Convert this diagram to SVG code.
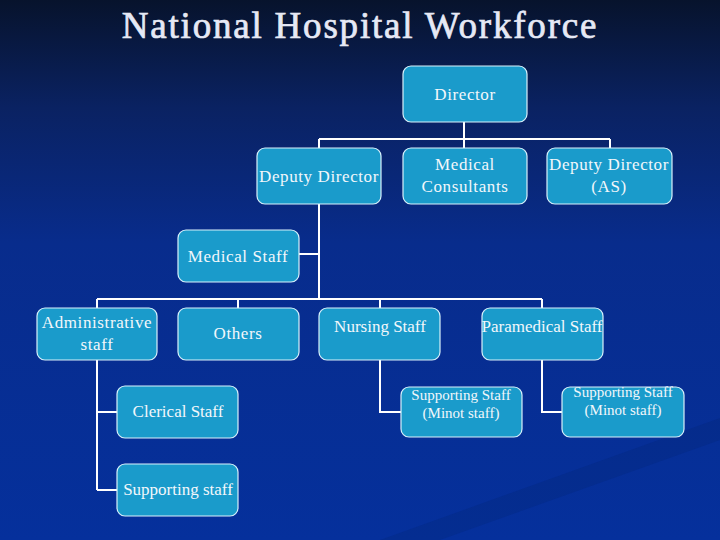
<svg xmlns="http://www.w3.org/2000/svg" width="720" height="540" viewBox="0 0 720 540">
<defs>
<linearGradient id="bg" x1="0" y1="0" x2="0" y2="1">
<stop offset="0" stop-color="#07132c"/>
<stop offset="0.2" stop-color="#0a2262"/>
<stop offset="0.45" stop-color="#082c8c"/>
<stop offset="1" stop-color="#05309c"/>
</linearGradient>
</defs>
<style>
.box{fill:#1a9bcb;stroke:#d9f1fb;stroke-width:1.2}
.t{font-family:"Liberation Serif","Times New Roman",serif;fill:#f2f7fb;text-anchor:middle}
.a{font-size:17px;letter-spacing:0.6px}
.b{font-size:17px}
.c{font-size:15px}
.ln{stroke:#ffffff;stroke-width:2;fill:none}
</style>
<rect width="720" height="540" fill="url(#bg)"/>
<polygon points="380,540 720,418 720,440 440,540" fill="#02236e" fill-opacity="0.25"/>
<text x="360" y="38" class="t" style="font-size:37px;letter-spacing:1.8px;fill:#e6e9f5;stroke:#e6e9f5;stroke-width:0.7">National Hospital Workforce</text>
<g id="connectors">
<path class="ln" d="M464,122 V139 M319,139 H610 M319,139 V148 M464,139 V148 M610,139 V148"/>
<path class="ln" d="M319,204 V299 M299,254 H319 M97,299 H542 M97,299 V308 M238,299 V308 M380,299 V308 M542,299 V308"/>
<path class="ln" d="M97,360 V490 M97,412 H117 M97,490 H117"/>
<path class="ln" d="M380,360 V412 H401 M542,360 V412 H562"/>
</g>
<g id="director"><rect class="box" x="403" y="66" width="124" height="56" rx="8"/><text class="t a" x="465" y="100">Director</text></g>
<g id="deputy-director"><rect class="box" x="257" y="148" width="124" height="56" rx="8"/><text class="t a" x="319" y="182">Deputy Director</text></g>
<g id="medical-consultants"><rect class="box" x="403" y="148" width="124" height="56" rx="8"/><text class="t a" x="465" y="170">Medical</text><text class="t a" x="465" y="192">Consultants</text></g>
<g id="deputy-director-as"><rect class="box" x="547" y="148" width="125" height="56" rx="8"/><text class="t a" x="609" y="170">Deputy Director</text><text class="t a" x="609" y="192">(AS)</text></g>
<g id="medical-staff"><rect class="box" x="178" y="230" width="121" height="52" rx="8"/><text class="t a" x="238" y="262">Medical Staff</text></g>
<g id="administrative-staff"><rect class="box" x="37" y="308" width="120" height="52" rx="8"/><text class="t a" x="97" y="328">Administrative</text><text class="t a" x="97" y="350">staff</text></g>
<g id="others"><rect class="box" x="178" y="308" width="121" height="52" rx="8"/><text class="t a" x="238" y="339">Others</text></g>
<g id="nursing-staff"><rect class="box" x="319" y="308" width="121" height="52" rx="8"/><text class="t b" x="380" y="332">Nursing Staff</text></g>
<g id="paramedical-staff"><rect class="box" x="482" y="308" width="121" height="52" rx="8"/><text class="t b" x="542" y="332">Paramedical Staff</text></g>
<g id="supporting-staff-nursing"><rect class="box" x="401" y="387" width="121" height="50" rx="8"/><text class="t c" x="461" y="400">Supporting Staff</text><text class="t c" x="461" y="418">(Minot staff)</text></g>
<g id="supporting-staff-paramedical"><rect class="box" x="562" y="387" width="122" height="50" rx="8"/><text class="t c" x="623" y="397">Supporting Staff</text><text class="t c" x="623" y="415">(Minot staff)</text></g>
<g id="clerical-staff"><rect class="box" x="117" y="386" width="121" height="52" rx="8"/><text class="t b" x="178" y="417">Clerical Staff</text></g>
<g id="supporting-staff-admin"><rect class="box" x="117" y="464" width="121" height="52" rx="8"/><text class="t b" x="178" y="495">Supporting staff</text></g>
</svg>
